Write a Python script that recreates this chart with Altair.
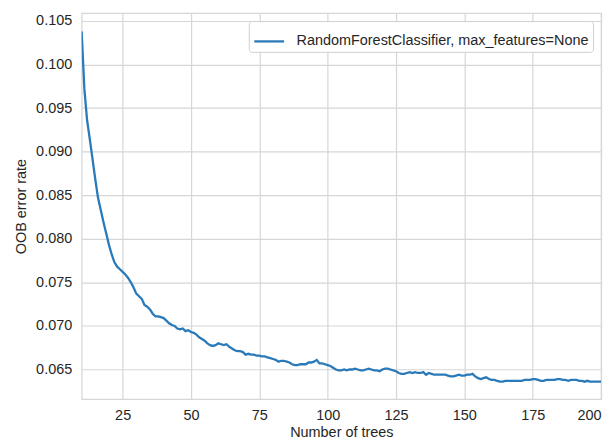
import altair as alt
import pandas as pd

n_trees = list(range(10, 201))
oob_error = [
    0.1038, 0.0972, 0.0936, 0.0914, 0.0891, 0.0868, 0.0847, 0.0833, 0.0819, 0.0806,  # 10-19
    0.0793, 0.0782, 0.0773, 0.0768, 0.0765, 0.0762, 0.0759, 0.0755, 0.0750, 0.0744,  # 20-29
    0.0737, 0.0734, 0.0731, 0.0724, 0.0722, 0.0719, 0.0714, 0.0711, 0.0711, 0.0710,  # 30-39
    0.0709, 0.0706, 0.0703, 0.0701, 0.0700, 0.0697, 0.0696, 0.0697, 0.0694, 0.0695,  # 40-49
    0.0693, 0.0692, 0.0690, 0.0687, 0.0685, 0.0683, 0.0680, 0.0678, 0.0677, 0.0678,  # 50-59
    0.0680, 0.0679, 0.0678, 0.0679, 0.0676, 0.0674, 0.0672, 0.0671, 0.0671, 0.0670,  # 60-69
    0.0667, 0.0668, 0.0667, 0.0667, 0.0666, 0.0666, 0.0665, 0.0665, 0.0664, 0.0663,  # 70-79
    0.0662, 0.0661, 0.0659, 0.0660, 0.0660, 0.0659, 0.0658, 0.0656, 0.0655, 0.0655,  # 80-89
    0.0656, 0.0656, 0.0656, 0.0658, 0.0658, 0.0659, 0.0661, 0.0657, 0.0657, 0.0656,  # 90-99
    0.0655, 0.0654, 0.0652, 0.0650, 0.0649, 0.0649, 0.0650, 0.0649, 0.0650, 0.0650,  # 100-109
    0.0651, 0.0650, 0.0649, 0.0649, 0.0650, 0.0651, 0.0650, 0.0649, 0.0649, 0.0648,  # 110-119
    0.0650, 0.0651, 0.0651, 0.0650, 0.0649, 0.0648, 0.0646, 0.0645, 0.0645, 0.0646,  # 120-129
    0.0647, 0.0646, 0.0647, 0.0646, 0.0646, 0.0647, 0.0644, 0.0646, 0.0645, 0.0644,  # 130-139
    0.0644, 0.0644, 0.0644, 0.0644, 0.0643, 0.0642, 0.0642, 0.0643, 0.0644, 0.0643,  # 140-149
    0.0643, 0.0644, 0.0644, 0.0645, 0.0642, 0.0640, 0.0639, 0.0640, 0.0641, 0.0639,  # 150-159
    0.0638, 0.0638, 0.0637, 0.0636, 0.0636, 0.0637, 0.0637, 0.0637, 0.0637, 0.0637,  # 160-169
    0.0637, 0.0637, 0.0638, 0.0638, 0.0638, 0.0639, 0.0639, 0.0638, 0.0637, 0.0637,  # 170-179
    0.0638, 0.0638, 0.0638, 0.0638, 0.0639, 0.0639, 0.0638, 0.0638, 0.0637, 0.0638,  # 180-189
    0.0638, 0.0638, 0.0637, 0.0637, 0.0636, 0.0637, 0.0636, 0.0636, 0.0636, 0.0636,  # 190-199
    0.0636,  # 200
]
series_name = "RandomForestClassifier, max_features=None"
x_ticks = [25, 50, 75, 100, 125, 150, 175, 200]
y_ticks = [0.065, 0.070, 0.075, 0.080, 0.085, 0.090, 0.095, 0.100, 0.105]

df = pd.DataFrame({"n": n_trees, "err": oob_error, "series": series_name})

FONT = "Liberation Sans"
TXT = "#262626"
GRID = "#d6d6d6"
FS = 14.5

chart = (
    alt.Chart(df)
    .mark_line(strokeWidth=2.3, clip=True)
    .encode(
        x=alt.X(
            "n:Q",
            title="Number of trees",
            scale=alt.Scale(domain=[10, 200], nice=False, zero=False),
            axis=alt.Axis(values=x_ticks, format="d", labelPadding=9, titlePadding=4),
        ),
        y=alt.Y(
            "err:Q",
            title="OOB error rate",
            scale=alt.Scale(domain=[0.0616, 0.1059], nice=False, zero=False),
            axis=alt.Axis(values=y_ticks, format=".3f", labelPadding=10, titlePadding=7),
        ),
        color=alt.Color(
            "series:N",
            scale=alt.Scale(range=["#2a7ab9"]),
            legend=alt.Legend(
                title=None,
                orient="top-right",
                offset=8,
                symbolType="stroke",
                symbolSize=900,
                symbolStrokeWidth=2.3,
                labelFont=FONT,
                labelFontSize=FS,
                labelColor=TXT,
                labelLimit=500,
                labelOffset=11,
                padding=4,
                fillColor="white",
                strokeColor="#d0d0d0",
                cornerRadius=3,
            ),
        ),
    )
    .properties(
        width=522,
        height=388,
        autosize="none",
        padding={"left": 74, "top": 4, "right": 5, "bottom": 40},
    )
    .configure_view(stroke=GRID, strokeWidth=1.2)
    .configure_axis(
        grid=True,
        gridColor=GRID,
        gridWidth=1.2,
        domain=False,
        ticks=False,
        labelFont=FONT,
        labelFontSize=FS,
        labelColor=TXT,
        titleFont=FONT,
        titleFontSize=FS,
        titleFontWeight="normal",
        titleColor=TXT,
    )
)

chart.save("out.html", embed_options={"renderer": "svg", "actions": False})
